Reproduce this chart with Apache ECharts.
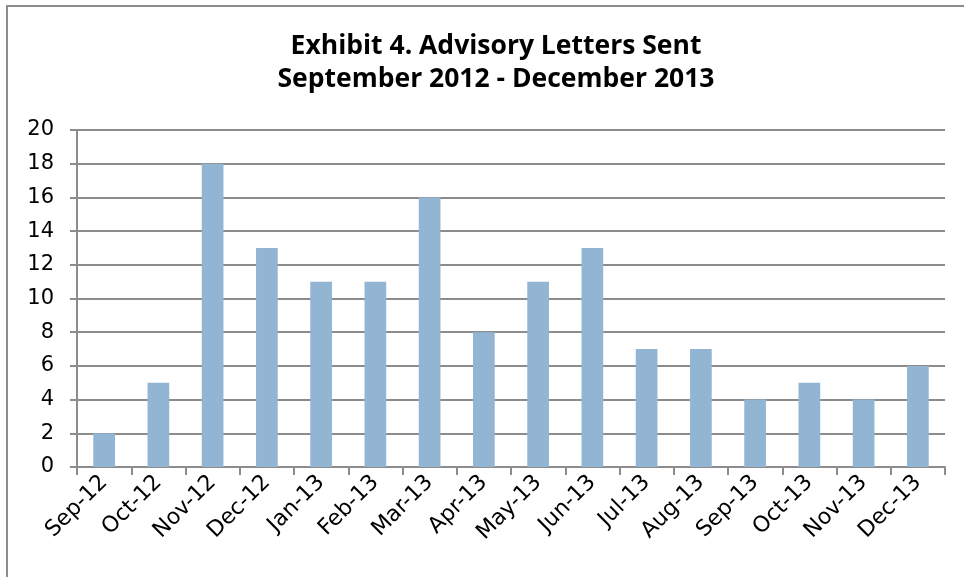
<!DOCTYPE html>
<html>
<head>
<meta charset="utf-8">
<script src="https://cdn.jsdelivr.net/npm/echarts@6/dist/echarts.min.js"></script>
<style>
  html, body { margin: 0; padding: 0; background: #fff; overflow: hidden; }
  #frame { position: absolute; left: 6px; top: 5px; width: 1000px; height: 600px; border: 2px solid #8c8c8c; }
  #main { position: absolute; left: 0; top: 0; width: 964px; height: 577px; }
</style>
</head>
<body>
<div id="frame"></div>
<div id="main"></div>
<script>
// months and letters sent
var months = ['Sep-12', 'Oct-12', 'Nov-12', 'Dec-12', 'Jan-13', 'Feb-13', 'Mar-13', 'Apr-13',
              'May-13', 'Jun-13', 'Jul-13', 'Aug-13', 'Sep-13', 'Oct-13', 'Nov-13', 'Dec-13'];
var letters = [2, 5, 18, 13, 11, 11, 16, 8, 11, 13, 7, 7, 4, 5, 4, 6];

var myChart = echarts.init(document.getElementById('main'));
myChart.setOption({
    animation: false,
    title: {
        text: 'Exhibit 4. Advisory Letters Sent\nSeptember 2012 - December 2013',
        left: 491,
        textAlign: 'center',
        top: 25,
        textStyle: {
            fontFamily: 'Open Sans',
            fontWeight: 'bold',
            fontSize: 26.5,
            lineHeight: 33,
            color: '#000'
        }
    },
    grid: {
        left: 77,
        right: 19,
        top: 130,
        bottom: 110
    },
    xAxis: {
        type: 'category',
        data: months,
        axisLine: { lineStyle: { color: '#8c8c8c', width: 2 } },
        axisTick: { show: true, length: 8, lineStyle: { color: '#8c8c8c', width: 2 } },
        axisLabel: {
            rotate: 45,
            interval: 0,
            margin: 12,
            fontFamily: 'DejaVu Sans',
            fontSize: 22,
            color: '#000'
        }
    },
    yAxis: {
        type: 'value',
        min: 0,
        max: 20,
        interval: 2,
        axisLine: { show: true, lineStyle: { color: '#8c8c8c', width: 2 } },
        axisTick: { show: true, length: 7, lineStyle: { color: '#8c8c8c', width: 2 } },
        splitLine: { lineStyle: { color: '#8c8c8c', width: 2 } },
        axisLabel: {
            margin: 23,
            fontFamily: 'DejaVu Sans',
            fontSize: 21,
            color: '#000'
        }
    },
    series: [{
        name: 'Letters',
        type: 'bar',
        data: letters,
        barWidth: '40%',
        itemStyle: { color: '#93b5d4' }
    }]
});
</script>
</body>
</html>
